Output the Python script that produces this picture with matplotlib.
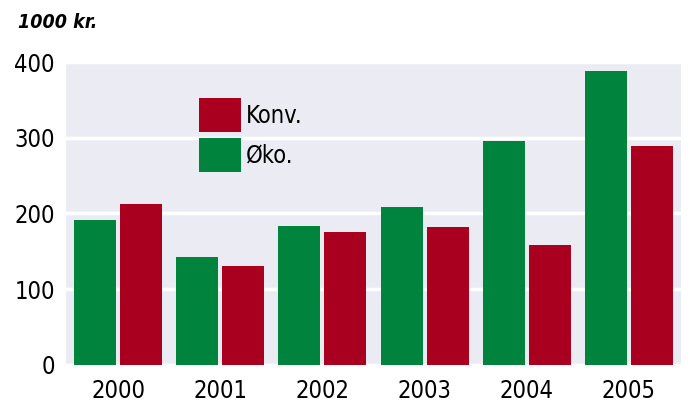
import numpy as np
import matplotlib.pyplot as plt

# data
years = ["2000", "2001", "2002", "2003", "2004", "2005"]
oko = [191, 143, 183, 208, 296, 388]
konv = [212, 131, 175, 182, 158, 289]

plt.rcParams['font.family'] = ['DejaVu Sans']
plt.rcParams['font.stretch'] = 'condensed'

green = "#00843D"
red = "#A8001E"

fig = plt.figure(figsize=(6.91, 4.03), dpi=100)
ax = fig.add_axes([66/691, 1-367/403, 615/691, 305/403])
ax.set_facecolor("#EBEBF3")

x = np.arange(len(years))
w = 0.41
ax.bar(x - 0.225, oko, w, color=green, label="Øko.", zorder=3)
ax.bar(x + 0.225, konv, w, color=red, label="Konv.", zorder=3)

ax.set_xlim(-0.51, 5.51)
ax.set_ylim(-3, 400)
ax.set_yticks([0, 100, 200, 300, 400])
ax.set_xticks(x)
ax.set_xticklabels(years)
ax.grid(axis="y", color="white", linewidth=2.5, zorder=1)
ax.tick_params(axis="y", length=0, labelsize=17, pad=8)
ax.tick_params(axis="x", length=0, labelsize=17, pad=8.5)
for s in ax.spines.values():
    s.set_visible(False)

h, l = ax.get_legend_handles_labels()
ax.legend(h[::-1], l[::-1], loc="upper left",
          bbox_to_anchor=((199-66)/615, (367-98)/305),
          frameon=False, fontsize=17, handlelength=1.78, handleheight=1.85,
          handletextpad=0.2, labelspacing=0.25, borderpad=0, borderaxespad=0)

fig.text(18/691, 1-22/403, "1000 kr.", fontsize=14, fontweight="bold",
         fontstyle="italic", va="center", ha="left")

plt.savefig("out.png", dpi=100)
